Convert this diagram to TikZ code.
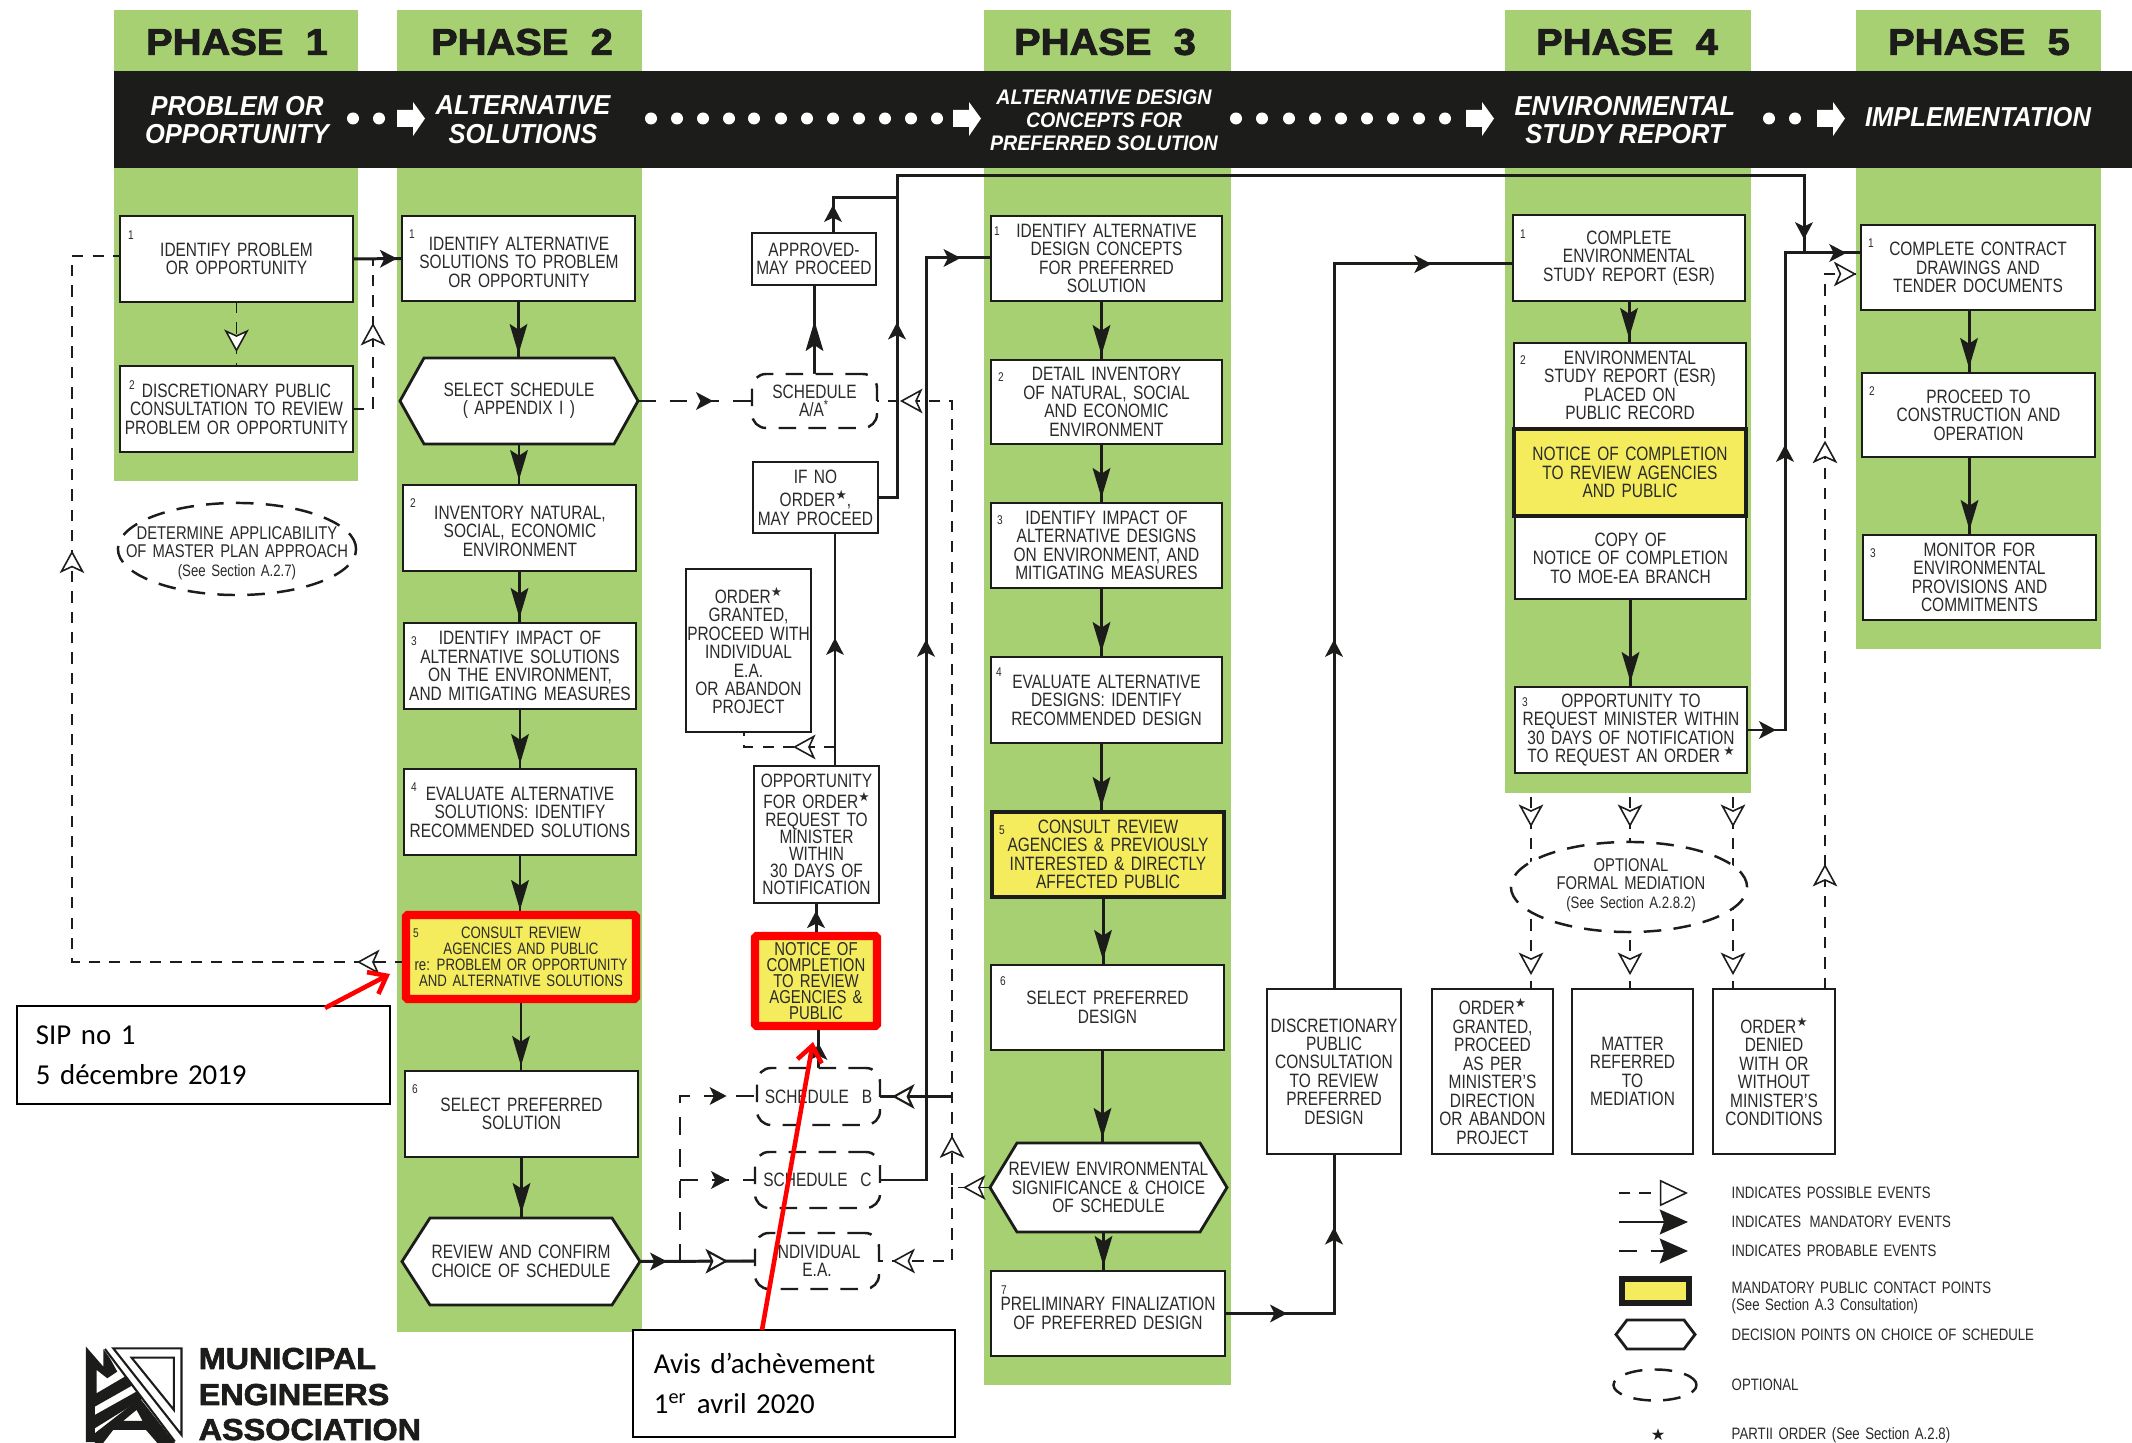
\documentclass[tikz,border=0pt]{standalone}
\usepackage{fontspec}
\setmainfont[FakeStretch=.8,WordSpace=1.5]{Liberation Sans}
\newfontfamily\carl[WordSpace=.8]{Carlito}
\newfontfamily\bandf[FakeStretch=.93]{Liberation Sans}
\newfontfamily\heavy[UprightFont={* Bold},FakeBold=2.2,FakeStretch=1.07]{Liberation Sans}
\newfontfamily\djv{DejaVu Sans}
\usetikzlibrary{arrows.meta,calc,decorations.markings,shapes.geometric}
\pgfdeclarelayer{back}\pgfdeclarelayer{wires}\pgfdeclarelayer{top}
\pgfsetlayers{back,wires,main,top}
\definecolor{grn}{HTML}{A6D072}
\definecolor{yel}{HTML}{F4EC5C}
\definecolor{ink}{HTML}{1C1C1A}
\definecolor{txt}{HTML}{2A2A2A}
\newcommand{\bt}{\fontsize{5.5}{5.25}\selectfont}
\newcommand{\bts}{\fontsize{4.7}{4.55}\selectfont}
\newcommand{\lgt}{\fontsize{4.7}{4.7}\selectfont}
\newcommand{\sstar}{\raisebox{.7ex}{\djv\fontsize{3.6}{3.6}\selectfont ★}}
\tikzset{
  x=.01cm,y=-.01cm,
  blk/.tip={Stealth[length=4.8pt,width=5pt,inset=1.2pt]},
  bal/.tip={Stealth[length=8.5pt,width=5pt,inset=1.6pt]},
  opn/.tip={Stealth[open,fill=white,length=6.4pt,width=7pt,inset=1.6pt]},
  ba/.style={postaction={decorate,decoration={markings,mark=at position #1 with {\arrow{blk}}}}},
  bl/.style={postaction={decorate,decoration={markings,mark=at position #1 with {\arrow{bal}}}}},
  oa/.style={postaction={decorate,decoration={markings,mark=at position #1 with {\arrow{opn}}}}},
  wire/.style={draw=ink,line width=.85pt},
  wthin/.style={draw=ink,line width=.6pt},
  dsh/.style={draw=ink,line width=.45pt,dash pattern=on 3.2pt off 2.6pt},
  tdsh/.style={draw=ink,line width=.8pt,dash pattern=on 5pt off 4pt},
  boxst/.style={draw=ink,line width=.75pt,fill=white,inner sep=0pt,outer sep=0pt,align=center,font=\bt,text=txt},
  yelbox/.style={fill=yel,line width=1.4pt},
  redbox/.style={draw=red,fill=yel,line width=2.4pt,rounded corners=.5pt},
  optst/.style={draw=ink,line width=.7pt,dash pattern=on 5pt off 3.5pt,fill=white,rounded corners=.14cm},
  ellst/.style={ellipse,draw=ink,line width=.7pt,dash pattern=on 5pt off 3.5pt,fill=white,inner sep=0pt,outer sep=0pt},
  elltx/.style={inner sep=0pt,align=center,font=\fontsize{5.25}{5.2}\selectfont,text=txt},
  boxtx/.style={inner sep=0pt,align=center,font=\bt,text=txt},
  numst/.style={font=\fontsize{3.6}{3.6}\selectfont,text=txt,inner sep=0pt},
  phase/.style={font=\heavy\fontsize{10.6}{10.6}\selectfont,text=ink,inner sep=0pt},
  bandt/.style={font=\bandf\fontsize{7.8}{8.2}\selectfont\itshape\bfseries,text=white,inner sep=0pt,align=center},
  bandn/.style={font=\bandf\fontsize{6}{6.5}\selectfont\itshape\bfseries,text=white,inner sep=0pt,align=center},
  lgtx/.style={font=\lgt,text=txt,inner sep=0pt,anchor=west,align=left},
  callout/.style={draw=black,line width=.5pt,fill=white,inner sep=0pt,outer sep=0pt,align=left,font=\carl\fontsize{8.2}{11.4}\selectfont},
  redarr/.style={draw=red,line width=1.3pt,-{Straight Barb[length=4.5pt,width=7pt,line width=1.3pt]}},
  logot/.style={font=\heavy\fontsize{8.6}{8.6}\selectfont,text=ink,inner sep=0pt,anchor=base west},
}
\newcommand{\bx}[7][]{%
  \pgfmathsetmacro\bxw{(#5-#3)*0.01}\pgfmathsetmacro\bxh{(#6-#4)*0.01}%
  \node[boxst,#1,minimum width=\bxw cm,minimum height=\bxh cm] (#2) at ({(#3+#5)/2},{(#4+#6)/2}) {#7};}
\newcommand{\hx}[7]{% name x1 y1 x2 y2 inset text
  \pgfmathsetmacro\bxw{(#4-#2)*0.01}\pgfmathsetmacro\bxh{(#5-#3)*0.01}%
  \pgfmathsetmacro\hxl{#2+#6}\pgfmathsetmacro\hxr{#4-#6}%
  \draw[draw=ink,line width=.8pt,fill=white,line join=miter] (#2,{(#3+#5)/2}) -- (\hxl,#3) -- (\hxr,#3) -- (#4,{(#3+#5)/2}) -- (\hxr,#5) -- (\hxl,#5) -- cycle;
  \node[inner sep=0pt,outer sep=0pt,align=center,font=\bt,text=txt,minimum width=\bxw cm,minimum height=\bxh cm] (#1) at ({(#2+#4)/2},{(#3+#5)/2}) {#7};}
\newcommand{\nm}[3][(10,18)]{\node[numst] (#2-n) at ($(#2.north west)+#1$) {#3};}
\newcommand{\vdn}[4][0]{\coordinate (vtmp) at ($(#2.south)+(#1,0)$);\draw[wire,bl=#4] (vtmp) -- (vtmp |- #3.north);}
\newcommand{\blockarr}[1]{\fill[white] (#1,110) -- ({#1+16},110) -- ({#1+16},102) -- ({#1+28},118.5) -- ({#1+16},136) -- ({#1+16},127) -- (#1,127) -- cycle;}
\begin{document}
\begin{tikzpicture}
\useasboundingbox (0,0) rectangle (2132,1443);
\begin{pgfonlayer}{back}
  \fill[white] (0,0) rectangle (2132,1443);
  \fill[grn] (114,10) rectangle (358,481);
  \fill[grn] (397,10) rectangle (642,1332);
  \fill[grn] (984,10) rectangle (1231,1385);
  \fill[grn] (1505,10) rectangle (1751,793);
  \fill[grn] (1856,10) rectangle (2101,649);
  \fill[ink] (114,71) rectangle (2132,168);
  \foreach \dx in {353,379,651,677,703,729,754,781,807,833,859,885,911,937,1236,1262,1289,1315,1341,1367,1393,1419,1445,1769,1795}
    \fill[white] (\dx,118.5) circle (.06cm);
  \blockarr{397}\blockarr{953}\blockarr{1466}\blockarr{1817}
\end{pgfonlayer}
% headers
\node[phase] (ph1) at (237,42) {PHASE\ \ 1};
\node[phase] (ph2) at (522,42) {PHASE\ \ 2};
\node[phase] (ph3) at (1105,42) {PHASE\ \ 3};
\node[phase] (ph4) at (1627,42) {PHASE\ \ 4};
\node[phase] (ph5) at (1979,42) {PHASE\ \ 5};
\node[bandt] (bd1) at (237,120) {PROBLEM OR\\OPPORTUNITY};
\node[bandt] (bd2) at (523,120) {ALTERNATIVE\\SOLUTIONS};
\node[bandn] (bd3) at (1104,120) {ALTERNATIVE DESIGN\\CONCEPTS FOR\\PREFERRED SOLUTION};
\node[bandt] (bd4) at (1625,120) {ENVIRONMENTAL\\STUDY REPORT};
\node[bandt] (bd5) at (1978,117) {IMPLEMENTATION};
% phase 1
\bx{p11}{120}{216}{353}{302}{IDENTIFY PROBLEM\\OR OPPORTUNITY}
\bx{p12}{120}{366}{353}{452}{DISCRETIONARY PUBLIC\\CONSULTATION TO REVIEW\\PROBLEM OR OPPORTUNITY}
\nm[(11,19)]{p11}{1}\nm[(12,19)]{p12}{2}
\node[ellst,minimum width=2.38cm,minimum height=.92cm] (det) at (237,549) {};
\node[elltx] (dett) at (237,553) {DETERMINE APPLICABILITY\\OF MASTER PLAN APPROACH\\{\bts (See Section A.2.7)}};
% phase 2
\bx{p21}{402}{216}{635}{301}{}
\node[boxtx] (p21t) at (519,262) {IDENTIFY ALTERNATIVE\\SOLUTIONS TO PROBLEM\\OR OPPORTUNITY};
\hx{h1}{400}{358}{638}{444}{24}{SELECT SCHEDULE\\( APPENDIX I )}
\bx{p22}{403}{485}{636}{571}{}
\node[boxtx] (p22t) at (520,531) {INVENTORY NATURAL,\\SOCIAL, ECONOMIC\\ENVIRONMENT};
\bx{p23}{404}{623}{636}{709}{IDENTIFY IMPACT OF\\ALTERNATIVE SOLUTIONS\\ON THE ENVIRONMENT,\\AND MITIGATING MEASURES}
\bx{p24}{404}{769}{636}{855}{EVALUATE ALTERNATIVE\\SOLUTIONS: IDENTIFY\\RECOMMENDED SOLUTIONS}
\bx[redbox,font=\bts]{p25}{406}{915}{636}{999}{CONSULT REVIEW\\AGENCIES AND PUBLIC\\re: PROBLEM OR OPPORTUNITY\\AND ALTERNATIVE SOLUTIONS}
\bx{p26}{405}{1071}{638}{1157}{SELECT PREFERRED\\SOLUTION}
\hx{h2}{402}{1218}{640}{1305}{28}{REVIEW AND CONFIRM\\CHOICE OF SCHEDULE}
\nm{p21}{1}\nm{p22}{2}\nm{p23}{3}\nm{p24}{4}\nm{p25}{5}\nm{p26}{6}
% middle column
\bx{app}{752}{233}{876}{285}{APPROVED-\\MAY PROCEED}
\bx[optst]{sa}{752}{374}{877}{428}{SCHEDULE\\A/A\textsuperscript{*}}
\bx{ino}{753}{462}{878}{533}{IF NO\\[1.5pt]ORDER\sstar,\\MAY PROCEED}
\bx{ogr}{686}{569}{811}{732}{ORDER\sstar\\GRANTED,\\PROCEED WITH\\INDIVIDUAL\\E.A.\\OR ABANDON\\PROJECT}
\bx[font=\fontsize{5.5}{4.9}\selectfont]{opp}{754}{766}{879}{903}{OPPORTUNITY\\[1.2pt]FOR ORDER\sstar\\REQUEST TO\\MINISTER\\WITHIN\\30 DAYS OF\\NOTIFICATION}
\bx[redbox,font=\fontsize{5.3}{4.6}\selectfont]{nt}{755}{936}{877}{1026}{NOTICE OF\\COMPLETION\\TO REVIEW\\AGENCIES \&\\PUBLIC}
\bx[optst]{sb}{757}{1068}{880}{1125}{SCHEDULE\ \ B}
\bx[optst]{sc}{755}{1152}{880}{1208}{SCHEDULE\ \ C}
\bx[optst]{si}{755}{1233}{879}{1289}{INDIVIDUAL\\E.A.}
% phase 3
\bx{p31}{991}{216}{1222}{301}{IDENTIFY ALTERNATIVE\\DESIGN CONCEPTS\\FOR PREFERRED\\SOLUTION}
\bx{p32}{991}{360}{1222}{444}{DETAIL INVENTORY\\OF NATURAL, SOCIAL\\AND ECONOMIC\\ENVIRONMENT}
\bx{p33}{991}{503}{1222}{588}{IDENTIFY IMPACT OF\\ALTERNATIVE DESIGNS\\ON ENVIRONMENT, AND\\MITIGATING MEASURES}
\bx{p34}{991}{657}{1222}{743}{EVALUATE ALTERNATIVE\\DESIGNS: IDENTIFY\\RECOMMENDED DESIGN}
\bx[yelbox]{p35}{992}{812}{1224}{897}{CONSULT REVIEW\\AGENCIES \& PREVIOUSLY\\INTERESTED \& DIRECTLY\\AFFECTED PUBLIC}
\bx{p36}{991}{965}{1224}{1050}{SELECT PREFERRED\\DESIGN}
\hx{h3}{990}{1143}{1227}{1232}{27}{REVIEW ENVIRONMENTAL\\SIGNIFICANCE \& CHOICE\\OF SCHEDULE}
\bx{p37}{991}{1271}{1225}{1356}{PRELIMINARY FINALIZATION\\OF PREFERRED DESIGN}
\nm[(6,15)]{p31}{1}\nm[(10,17)]{p32}{2}\nm[(9,17)]{p33}{3}\nm[(8,15)]{p34}{4}\nm[(10,18)]{p35}{5}\nm[(12,16)]{p36}{6}\nm[(13,19)]{p37}{7}
% lower boxes
\bx{dsc}{1267}{989}{1401}{1154}{DISCRETIONARY\\PUBLIC\\CONSULTATION\\TO REVIEW\\PREFERRED\\DESIGN}
\bx{ogm}{1432}{989}{1553}{1154}{ORDER\sstar\\GRANTED,\\PROCEED\\AS PER\\MINISTER'S\\DIRECTION\\OR ABANDON\\PROJECT}
\bx{mat}{1572}{989}{1693}{1154}{MATTER\\REFERRED\\TO\\MEDIATION}
\bx{odn}{1713}{989}{1835}{1154}{ORDER\sstar\\DENIED\\WITH OR\\WITHOUT\\MINISTER'S\\CONDITIONS}
% phase 4
\bx{p41}{1513}{215}{1745}{301}{COMPLETE\\ENVIRONMENTAL\\STUDY REPORT (ESR)}
\bx{p42}{1514}{343}{1746}{428}{ENVIRONMENTAL\\STUDY REPORT (ESR)\\PLACED ON\\PUBLIC RECORD}
\bx{pcp}{1515}{517}{1746}{599}{COPY OF\\NOTICE OF COMPLETION\\TO MOE-EA BRANCH}
\bx[yelbox]{pny}{1514}{429}{1746}{516}{NOTICE OF COMPLETION\\TO REVIEW AGENCIES\\AND PUBLIC}
\bx{p43}{1515}{687}{1747}{773}{OPPORTUNITY TO\\REQUEST MINISTER WITHIN\\30 DAYS OF NOTIFICATION\\TO REQUEST AN ORDER\,\sstar}
\nm[(10,19)]{p41}{1}\nm[(9,17)]{p42}{2}\nm[(10,15)]{p43}{3}
\node[ellst,minimum width=2.36cm,minimum height=.90cm] (med) at (1629,887) {};
\node[elltx] (medt) at (1631,885) {OPTIONAL\\FORMAL MEDIATION\\{\bts (See Section A.2.8.2)}};
% phase 5
\bx{p51}{1861}{225}{2095}{310}{COMPLETE CONTRACT\\DRAWINGS AND\\TENDER DOCUMENTS}
\bx{p52}{1862}{373}{2095}{457}{PROCEED TO\\CONSTRUCTION AND\\OPERATION}
\bx{p53}{1863}{535}{2096}{620}{MONITOR FOR\\ENVIRONMENTAL\\PROVISIONS AND\\COMMITMENTS}
\nm{p51}{1}\nm{p52}{2}\nm{p53}{3}
% junctions
\coordinate (dj) at (373,259);
\coordinate (lc1) at (72,962);
\coordinate (lc2) at (72,256);
\coordinate (j1) at (833,198);
\coordinate (j2) at (897,198);
\coordinate (j3) at (897,176);
\coordinate (j4) at (1804,176);
\coordinate (j5) at (1804,253);
\coordinate (j6) at (1785,253);
\coordinate (j7) at (1825,274);
\coordinate (j8) at (835,747);
\coordinate (j9) at (744,747);
\coordinate (j10) at (926,258);
\coordinate (j11) at (952,401);
\coordinate (j12) at (680,1096);
\coordinate (j13) at (1334,1313);
\coordinate (j14) at (1334,264);
\coordinate (t1) at (1531,797);
\coordinate (t2) at (1630,797);
\coordinate (t3) at (1733,797);
\begin{pgfonlayer}{wires}
  \draw[wire,ba=.44cm] (p11.east) -- (p21.west);
  \draw[dsh,oa=.50cm] (p11.south) -- (p11.south |- p12.north);
  \draw[dsh,oa=1.06cm] (p12.east) -- (p12.east -| dj) -- (dj);
  \draw[dsh,oa=.49cm,oa=7.45cm] ($(p25.west)+(0,5)$) -- (lc1) -- (lc2) -- ($(p11.west)+(0,-3)$);
  \vdn{p21}{h1}{-.04cm}
  \vdn{h1}{p22}{-.05cm}
  \vdn{p22}{p23}{-.05cm}
  \vdn{p23}{p24}{-.05cm}
  \vdn{p24}{p25}{-.05cm}
  \vdn{p25}{p26}{-.05cm}
  \vdn{p26}{h2}{-.05cm}
  \draw[tdsh,ba=.75cm] (h1.east) -- (sa.west);
  \draw[wire,bl=.53cm] (sa.north) -- (sa.north |- app.south);
  \draw[wire,ba=.28cm] (app.north -| j1) -- (j1) -- (j2);
  \draw[wire,ba=1.94cm,ba=13.1cm] (ino.east) -- (ino.east -| j3) -- (j3) -- (j4) -- (j5);
  \draw[wire,ba=.29cm,ba=3.23cm,ba=5.76cm] (p43.east) -- (p43.east -| j6) -- (j6) -- (j6 -| p51.west);
  \draw[dsh,oa=1.25cm,oa=5.48cm,oa=7.46cm] (odn.north -| j7) -- (j7) -- (j7 -| p51.west);
  \draw[wthin,ba=1.28cm] (opp.north -| j8) -- (ino.south -| j8);
  \draw[dsh,oa=.42cm] (j8) -- (j9) -- (j9 |- ogr.south);
  \draw[wire,ba=-.08cm] (nt.north) -- (nt.north |- opp.south);
  \draw[wire,ba=.25cm] (sb.north) -- (sb.north |- nt.south);
  \draw[wire,ba=5.86cm,ba=10.02cm] (sc.east) -- (sc.east -| j10) -- (j10) -- (j10 -| p31.west);
  \draw[dsh,oa=.27cm,oa=.90cm,oa=8.76cm] (h3.west) -- (h3.west -| j11) -- (j11) -- (sa.east);
  \draw[wthin,oa=.60cm] (j11 |- sb.east) -- (sb.east);
  \draw[dsh,oa=1.33cm] (h3.west -| j11) -- (j11 |- si.east) -- (si.east);
  \draw[wire,ba=.27cm] (h2.east) -- (si.west);
  \draw[wthin,oa=.88cm] (h2.east) -- (si.west);
  \draw[tdsh,ba=2.12cm] (j12 |- h2.east) -- (j12) -- (j12 -| sb.west);
  \draw[tdsh,ba=.48cm] (j12 |- sc.west) -- (sc.west);
  \vdn[-5]{p31}{p32}{-.05cm}
  \vdn[-5]{p32}{p33}{-.05cm}
  \vdn[-5]{p33}{p34}{-.05cm}
  \vdn[-5]{p34}{p35}{-.05cm}
  \vdn[-5]{p35}{p36}{-.05cm}
  \vdn[-5]{p36}{h3}{-.05cm}
  \vdn[-5]{h3}{p37}{-.05cm}
  \draw[wire,ba=.62cm,ba=1.95cm] (p37.east) -- (p37.east -| j13) -- (dsc.south);
  \draw[wire,ba=3.49cm,ba=8.22cm] (dsc.north) -- (j14) -- (j14 -| p41.west);
  \vdn{p41}{p42}{-.05cm}
  \vdn{pcp}{p43}{-.05cm}
  \draw[dsh,oa=.30cm,oa=1.78cm] (t1) -- (t1 |- ogm.north);
  \draw[dsh,oa=.30cm,oa=1.78cm] (t2) -- (t2 |- mat.north);
  \draw[dsh,oa=.30cm,oa=1.78cm] (t3) -- (t3 |- odn.north);
  \vdn[-9]{p51}{p52}{-.05cm}
  \vdn[-9]{p52}{p53}{-.05cm}
\end{pgfonlayer}
% legend
\coordinate (lg1a) at (1619,1193);\coordinate (lg1b) at (1688,1193);
\coordinate (lg2a) at (1619,1222);\coordinate (lg2b) at (1688,1222);
\coordinate (lg3a) at (1619,1251);\coordinate (lg3b) at (1688,1251);
\draw[dsh,-{Stealth[open,fill=white,length=8pt,width=7.5pt,inset=0pt]}] (lg1a) -- (lg1b);
\draw[wire,-{Stealth[length=8pt,width=7pt,inset=1.2pt]}] (lg2a) -- (lg2b);
\draw[tdsh,-{Stealth[length=8pt,width=7pt,inset=1.2pt]}] (lg3a) -- (lg3b);
\node[lgtx] (lt1) at (1731,1193) {INDICATES POSSIBLE EVENTS};
\node[lgtx] (lt2) at (1731,1222) {INDICATES\ \,MANDATORY EVENTS};
\node[lgtx] (lt3) at (1731,1251) {INDICATES PROBABLE EVENTS};
\bx[yelbox,line width=1.7pt]{ly}{1622}{1279}{1689}{1303}{}
\node[lgtx] (lt4) at (1731,1298) {MANDATORY PUBLIC CONTACT POINTS\\[.3pt](See Section A.3 Consultation)};
\hx{lh}{1616}{1320}{1695}{1349}{11}{}
\node[lgtx] (lt5) at (1731,1335) {DECISION POINTS ON CHOICE OF SCHEDULE};
\node[ellst,minimum width=.83cm,minimum height=.31cm] (lo) at (1655,1385) {};
\node[lgtx] (lt6) at (1731,1385) {OPTIONAL};
\node[inner sep=0pt,font=\djv\fontsize{4.6}{4.6}\selectfont,text=ink] (ls) at (1658,1435) {★};
\node[lgtx] (lt7) at (1731,1435) {PARTII ORDER (See Section A.2.8)};
% logo
\begin{scope}[shift={(70,1335)},x=.00333cm,y=-.00333cm]
  \fill[ink,even odd rule] (48,35) -- (100,95) -- (100,42) -- (120,70) -- (142,110) -- (112,130) -- (80,105) -- (80,175) -- (165,125) -- (190,150) -- (75,215) -- (75,240) -- (200,170) -- (220,190) -- (75,280) -- (75,322) -- (48,322) -- cycle;
  \fill[ink,even odd rule] (75,295) -- (210,190) -- (315,324) -- (262,324) -- (228,285) -- (130,285) -- (100,324) -- (75,324) -- cycle (160,258) -- (218,258) -- (200,225) -- cycle;
  \draw[ink,line width=.6pt] (130,40) -- (335,40) -- (335,300) -- cycle;
  \draw[ink,line width=.6pt] (185,68) -- (312,68) -- (312,225) -- cycle;
  \draw[ink,line width=.6pt] (105,42) -- (315,320);
\end{scope}
\node[logot] (lg1) at (198,1369) {MUNICIPAL};
\node[logot] (lg2) at (198,1405) {ENGINEERS};
\node[logot] (lg3) at (198,1440) {ASSOCIATION};
\begin{pgfonlayer}{top}
  \node[callout,minimum width=3.73cm,minimum height=.98cm,text width=3.35cm,inner xsep=.19cm] (sip) at (203.5,1055) {SIP no 1\\5 décembre 2019};
  \node[callout,minimum width=3.22cm,minimum height=1.07cm,text width=2.8cm,inner xsep=.21cm] (avis) at (794,1383.5) {Avis d’achèvement\\1\textsuperscript{er} avril 2020};
  \coordinate (ra1) at (325,1008);
  \coordinate (ra2) at (390,974);
  \coordinate (rb1) at (762,1330);
  \coordinate (rb2) at (813,1042);
  \draw[redarr] (ra1) -- (ra2);
  \draw[redarr] (rb1) -- (rb2);
\end{pgfonlayer}
\end{tikzpicture}
\end{document}
